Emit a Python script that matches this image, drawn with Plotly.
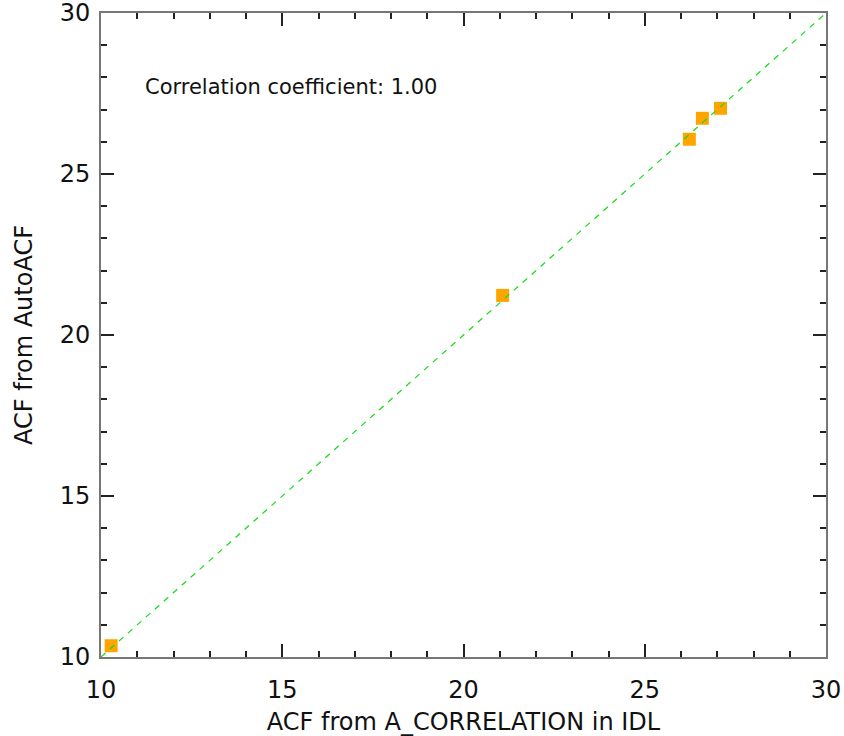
import plotly.graph_objects as go

# ACF values from the two implementations
acf_idl = [10.28, 21.08, 26.23, 26.59, 27.09]
acf_auto = [10.35, 21.23, 26.08, 26.73, 27.04]

# one-to-one reference line
ref_line = [10, 30]

axis_range = [10, 30]
major_ticks = [10, 15, 20, 25, 30]
corr_text = "Correlation coefficient: 1.00"

font_family = "DejaVu Sans"

fig = go.Figure()

fig.add_trace(go.Scatter(
    x=acf_idl, y=acf_auto,
    mode="markers",
    marker=dict(symbol="square", size=13, color="#FFA500", line=dict(width=0)),
    showlegend=False,
    cliponaxis=False,
))

fig.add_trace(go.Scatter(
    x=ref_line, y=ref_line,
    mode="lines",
    line=dict(color="#11DD11", width=1.2, dash="6px,6px"),
    showlegend=False,
))

axis_common = dict(
    range=axis_range,
    tickvals=major_ticks,
    ticks="inside",
    ticklen=13,
    tickwidth=2,
    tickcolor="#222222",
    showline=True,
    linecolor="#777777",
    linewidth=2,
    mirror="ticks",
    showgrid=False,
    zeroline=False,
    automargin=False,
    ticklabeloverflow="allow",
    tickfont=dict(family=font_family, size=24, color="#111111"),
    minor=dict(
        ticks="inside", ticklen=6, tickwidth=2, tickcolor="#222222",
        dtick=1, showgrid=False,
    ),
)

fig.update_xaxes(
    **axis_common,
    ticklabelstandoff=10,
    title=dict(text="ACF from A_CORRELATION in IDL",
               font=dict(family=font_family, size=24, color="#111111"),
               standoff=12),
)
fig.update_yaxes(
    **axis_common,
    ticklabelstandoff=4,
    title=dict(text="ACF from AutoACF",
               font=dict(family=font_family, size=24, color="#111111"),
               standoff=20),
)

fig.add_annotation(
    x=11.15, y=27.7, xref="x", yref="y",
    text=corr_text, showarrow=False,
    xanchor="left", yanchor="middle",
    font=dict(family=font_family, size=21, color="#111111"),
)

fig.update_layout(
    width=844, height=736,
    margin=dict(l=101, r=18, t=13, b=79),
    paper_bgcolor="white",
    plot_bgcolor="white",
)

fig.write_html("out.html")
